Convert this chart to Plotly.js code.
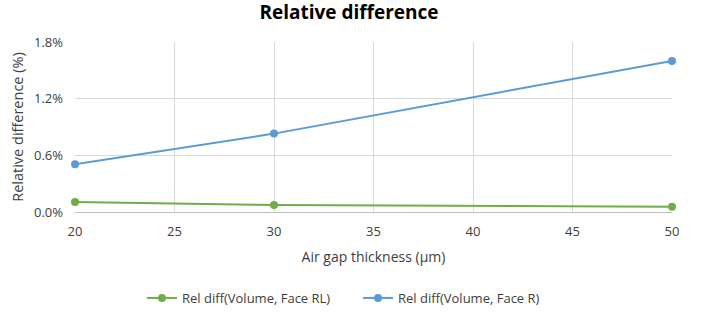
<!DOCTYPE html>
<html>
<head>
<meta charset="utf-8">
<script src="https://cdn.plot.ly/plotly-3.0.1.min.js"></script>
<style>html,body{margin:0;padding:0;background:#fff;}#chart{width:710px;height:315px;}</style>
</head>
<body>
<div id="chart"></div>
<script>
const thickness = [20, 30, 50];
const relDiffFaceRL = [0.106, 0.074, 0.056];
const relDiffFaceR = [0.505, 0.83, 1.6];
const seriesNames = ["Rel diff(Volume, Face RL)", "Rel diff(Volume, Face R)"];
const yTicks = [0, 0.6, 1.2, 1.8];
const yTickLabels = ["0.0%", "0.6%", "1.2%", "1.8%"];
const xTicks = [20, 25, 30, 35, 40, 45, 50];

const font = "Open Sans, Noto Sans, sans-serif";
const traces = [
  {x: thickness, y: relDiffFaceRL, name: seriesNames[0], mode: "lines+markers", cliponaxis: false,
   legend: "legend",
   line: {color: "#70ad47", width: 2}, marker: {color: "#70ad47", size: 8}},
  {x: thickness, y: relDiffFaceR, name: seriesNames[1], mode: "lines+markers", cliponaxis: false,
   legend: "legend2",
   line: {color: "#5b9bd5", width: 2}, marker: {color: "#5b9bd5", size: 8}}
];
const legendCommon = {orientation: "h", xref: "container", xanchor: "left", yref: "container",
  y: 0.054, yanchor: "middle", font: {size: 13, color: "#404040"}, bgcolor: "rgba(0,0,0,0)"};
const layout = {
  width: 710, height: 315,
  margin: {l: 75, r: 38, t: 42, b: 103},
  paper_bgcolor: "#fff", plot_bgcolor: "#fff",
  font: {family: font, size: 13, color: "#404040"},
  title: {text: "<b>Relative difference</b>", x: 0.4915, xanchor: "center", y: 0.962, yanchor: "middle",
          font: {family: font, size: 19, color: "#000"}},
  xaxis: {range: [20, 50], tickvals: xTicks, showgrid: true, gridcolor: "#d9d9d9", zeroline: false,
          showline: true, linecolor: "#bfbfbf", ticks: "", ticklabelstandoff: 7, automargin: false,
          tickfont: {size: 13, color: "#404040"},
          title: {text: "Air gap thickness (µm)", font: {size: 14, color: "#404040"}, standoff: 13}},
  yaxis: {range: [0, 1.8], tickvals: yTicks, ticktext: yTickLabels, showgrid: true, gridcolor: "#d9d9d9",
          zeroline: false, showline: false, ticks: "", ticklabelstandoff: 11, automargin: false,
          tickfont: {size: 13, color: "#404040"},
          title: {text: "Relative difference (%)", font: {size: 14.5, color: "#404040"}, standoff: 6}},
  legend: Object.assign({}, legendCommon, {x: 142 / 710}),
  legend2: Object.assign({}, legendCommon, {x: 358 / 710}),
  showlegend: true
};
Plotly.newPlot("chart", traces, layout, {displayModeBar: false, staticPlot: true});
</script>
</body>
</html>
